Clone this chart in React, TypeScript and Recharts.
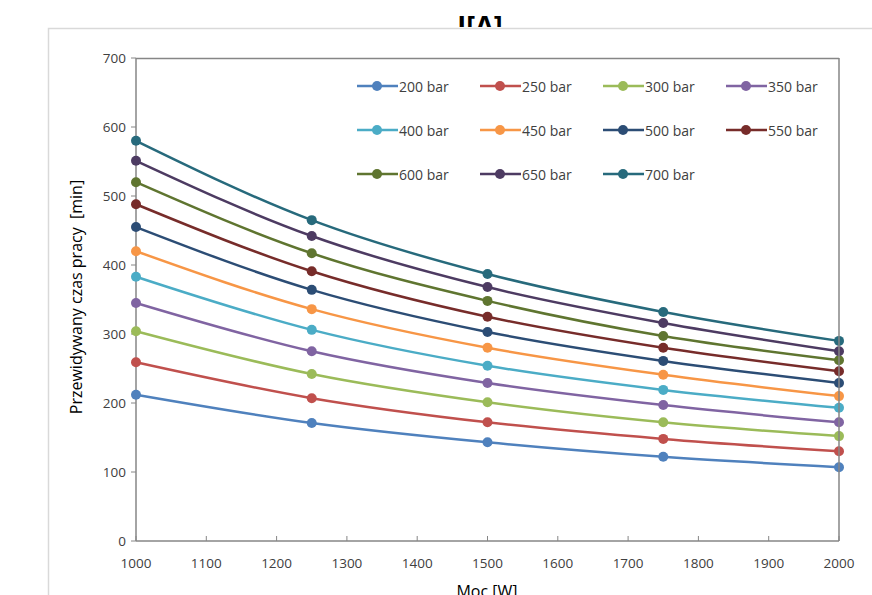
import { Line, LineChart, XAxis, YAxis } from 'recharts';

const power = [1000, 1250, 1500, 1750, 2000];
const xTicks = [1000, 1100, 1200, 1300, 1400, 1500, 1600, 1700, 1800, 1900, 2000];
const yTicks = [0, 100, 200, 300, 400, 500, 600, 700];

const bar200 = [212, 171, 143, 122, 107];
const bar250 = [259, 207, 172, 148, 130];
const bar300 = [304, 242, 201, 172, 152];
const bar350 = [345, 275, 229, 197, 172];
const bar400 = [383, 306, 254, 219, 193];
const bar450 = [420, 336, 280, 241, 210];
const bar500 = [455, 364, 303, 261, 229];
const bar550 = [488, 391, 325, 280, 246];
const bar600 = [520, 417, 348, 297, 262];
const bar650 = [551, 442, 368, 316, 275];
const bar700 = [580, 465, 387, 332, 290];

const series = [
  { name: '200 bar', values: bar200, color: '#4F81BD' },
  { name: '250 bar', values: bar250, color: '#C0504D' },
  { name: '300 bar', values: bar300, color: '#9BBB59' },
  { name: '350 bar', values: bar350, color: '#8064A2' },
  { name: '400 bar', values: bar400, color: '#4BACC6' },
  { name: '450 bar', values: bar450, color: '#F79646' },
  { name: '500 bar', values: bar500, color: '#2C4D75' },
  { name: '550 bar', values: bar550, color: '#772C2A' },
  { name: '600 bar', values: bar600, color: '#5F7530' },
  { name: '650 bar', values: bar650, color: '#4D3B62' },
  { name: '700 bar', values: bar700, color: '#276A7C' },
];

const data = power.map((p, i) => {
  const row: Record<string, number> = { power: p };
  series.forEach((s) => {
    row[s.name] = s.values[i];
  });
  return row;
});

const font = '"Open Sans", "Noto Sans", sans-serif';
const axisColor = '#868686';
const textColor = '#404040';

function XTick({ x, y, payload }: any) {
  return (
    <g>
      <line x1={x} x2={x} y1={y} y2={y - 5} stroke={axisColor} strokeWidth={1} />
      <text x={x} y={y + 27} textAnchor="middle" fontSize={13.5} fill={textColor} fontFamily={font}>
        {payload.value}
      </text>
    </g>
  );
}

function LegendBox() {
  return (
    <div
      style={{
        position: 'absolute',
        left: 357,
        top: 64,
        display: 'flex',
        flexWrap: 'wrap',
        width: 500,
        fontFamily: font,
        pointerEvents: 'none',
      }}
    >
      {series.map((s) => (
        <div key={s.name} style={{ width: 123, height: 44, display: 'flex', alignItems: 'center' }}>
          <svg width={41} height={12}>
            <line x1={0} x2={41} y1={6} y2={6} stroke={s.color} strokeWidth={2.5} />
            <circle cx={20} cy={6} r={5} fill={s.color} />
          </svg>
          <span style={{ fontSize: 14, color: textColor, marginLeft: 1 }}>{s.name}</span>
        </div>
      ))}
    </div>
  );
}

export default function App() {
  return (
    <div style={{ position: 'fixed', left: 0, top: 0, width: 872, height: 595, background: '#fff', overflow: 'hidden' }}>
      <LineChart width={872} height={595} data={data} margin={{ top: 58, right: 33, bottom: 0, left: 0 }}>
        <XAxis
          dataKey="power"
          type="number"
          domain={[1000, 2000]}
          ticks={xTicks}
          height={54}
          tickLine={false}
          tickSize={0}
          tickMargin={0}
          axisLine={{ stroke: axisColor, strokeWidth: 1.5 }}
          tick={<XTick />}
        />
        <YAxis
          domain={[0, 700]}
          ticks={yTicks}
          width={136}
          tickSize={5}
          tickMargin={5}
          axisLine={{ stroke: axisColor, strokeWidth: 1.5 }}
          tickLine={{ stroke: axisColor }}
          tick={{ fontSize: 13.5, fill: textColor, fontFamily: font }}
        />
        {series.map((s) => (
          <Line
            key={s.name}
            type="monotone"
            dataKey={s.name}
            stroke={s.color}
            strokeWidth={2.5}
            dot={{ r: 5, fill: s.color, stroke: s.color, strokeWidth: 0 }}
            isAnimationActive={false}
          />
        ))}
      </LineChart>
      <svg width={872} height={595} style={{ position: 'absolute', left: 0, top: 0, pointerEvents: 'none' }}>
        <defs>
          <clipPath id="titleClip">
            <rect x={0} y={0} width={872} height={27} />
          </clipPath>
        </defs>
        <rect x={48.5} y={28.5} width={900} height={600} fill="none" stroke="#d9d9d9" strokeWidth={1.5} />
        <text x={480} y={35} textAnchor="middle" fontSize={27} fontWeight="bold" fill="#000" fontFamily={font} clipPath="url(#titleClip)">
          I[A]
        </text>
        <line x1={136} x2={839} y1={58.5} y2={58.5} stroke={axisColor} strokeWidth={1.5} />
        <line x1={839} x2={839} y1={58} y2={541} stroke={axisColor} strokeWidth={1.5} />
        <text
          x={78}
          y={297}
          transform="rotate(-90 78 297)"
          textAnchor="middle"
          dominantBaseline="middle"
          fontSize={16}
          fill="#000"
          fontFamily={font}
          style={{ whiteSpace: 'pre' }}
        >
          Przewidywany czas pracy  [min]
        </text>
        <text x={487} y={597} textAnchor="middle" fontSize={16} fill="#000" fontFamily={font}>
          Moc [W]
        </text>
      </svg>
      <LegendBox />
    </div>
  );
}
